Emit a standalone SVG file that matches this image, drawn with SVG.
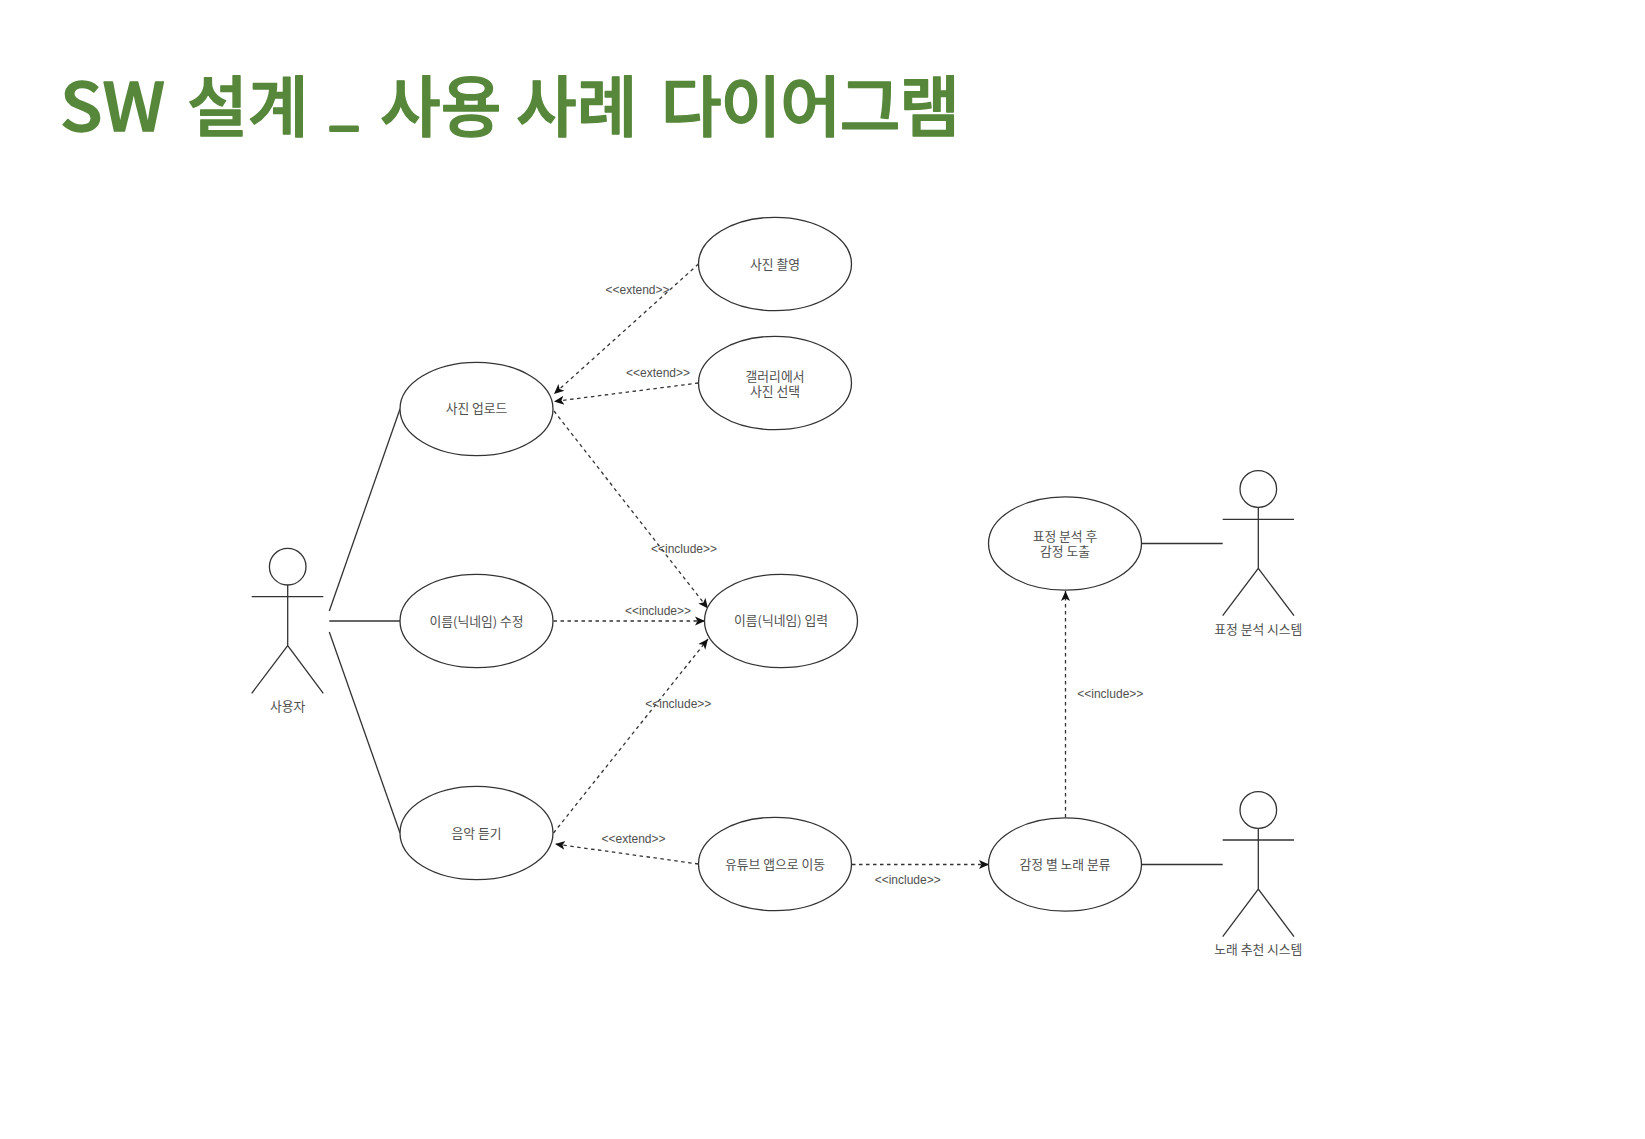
<svg xmlns="http://www.w3.org/2000/svg" width="1645" height="1139" viewBox="0 0 1645 1139">
<style>
text{font-family:"Liberation Sans","Noto Sans CJK KR",sans-serif;font-size:12px;fill:#505050;text-anchor:middle;dominant-baseline:central}
.kr{font-family:"Noto Sans CJK KR",sans-serif;font-size:12.8px;transform:translateY(-1px)}
.title{font-family:"Noto Sans CJK KR",sans-serif;font-size:66px;font-weight:500;fill:#56873a;text-anchor:start;dominant-baseline:auto;stroke:#56873a;stroke-width:1.4;stroke-linejoin:round}
ellipse,circle{fill:#fff;stroke:#333;stroke-width:1.3}
.s{fill:none;stroke:#333;stroke-width:1.3}
.d{fill:none;stroke:#333;stroke-width:1.3;stroke-dasharray:3.5 3.5;marker-end:url(#a)}
</style>
<defs>
<marker id="a" markerUnits="userSpaceOnUse" markerWidth="11" markerHeight="11" viewBox="0 0 11 11" refX="10" refY="5.5" orient="auto">
<path d="M0 1 L10 5.5 L0 10 L2.5 5.5 Z" fill="#111"/>
</marker>
</defs>
<rect width="1645" height="1139" fill="#fff"/>
<text id="title" class="title" y="131"><tspan x="60" textLength="105" lengthAdjust="spacingAndGlyphs">SW</tspan> <tspan x="187">설계</tspan> <tspan x="330" y="123" font-size="50" stroke-width="3">_</tspan> <tspan x="380" y="131">사용</tspan> <tspan x="516">사례</tspan> <tspan x="661" textLength="299">다이어그램</tspan></text>

<g id="connectors">
<line class="s" x1="329.3" y1="611" x2="400" y2="409"/>
<line class="s" x1="329.3" y1="621" x2="400" y2="621"/>
<line class="s" x1="329.3" y1="632" x2="400" y2="833"/>
<line class="s" x1="1141.5" y1="543.5" x2="1222.7" y2="543.5"/>
<line class="s" x1="1141.5" y1="864.5" x2="1222.7" y2="864.5"/>
<line class="d" x1="698.5" y1="264" x2="554" y2="394"/>
<line class="d" x1="698.5" y1="383" x2="554" y2="401.5"/>
<line class="d" x1="554" y1="411" x2="708" y2="608.5"/>
<line class="d" x1="553.5" y1="621" x2="705" y2="621"/>
<line class="d" x1="553.5" y1="833" x2="708" y2="639"/>
<line class="d" x1="698.5" y1="864" x2="555" y2="844"/>
<line class="d" x1="852" y1="864.5" x2="989" y2="864.5"/>
<line class="d" x1="1065.5" y1="817.5" x2="1065.5" y2="591"/>
<text x="637.5" y="290">&lt;&lt;extend&gt;&gt;</text>
<text x="658" y="373">&lt;&lt;extend&gt;&gt;</text>
<text x="684" y="549">&lt;&lt;include&gt;&gt;</text>
<text x="658" y="611">&lt;&lt;include&gt;&gt;</text>
<text x="678.3" y="704">&lt;&lt;include&gt;&gt;</text>
<text x="633.5" y="838.5">&lt;&lt;extend&gt;&gt;</text>
<text x="907.7" y="880">&lt;&lt;include&gt;&gt;</text>
<text x="1110.3" y="694">&lt;&lt;include&gt;&gt;</text>
</g>

<g id="uc-photo"><ellipse cx="775" cy="264" rx="76.5" ry="46.7"/><text class="kr" x="775" y="264">사진 촬영</text></g>
<g id="uc-gallery"><ellipse cx="775" cy="383" rx="76.5" ry="46.7"/><text class="kr"><tspan x="775" y="375.5">갤러리에서</tspan><tspan x="775" y="390.5">사진 선택</tspan></text></g>
<g id="uc-upload"><ellipse cx="476.5" cy="409" rx="76.5" ry="46.7"/><text class="kr" x="476.5" y="408.5">사진 업로드</text></g>
<g id="uc-edit-name"><ellipse cx="476.5" cy="621" rx="76.5" ry="46.7"/><text class="kr" x="476.5" y="621">이름(닉네임) 수정</text></g>
<g id="uc-enter-name"><ellipse cx="781" cy="621" rx="76.5" ry="46.7"/><text class="kr" x="781" y="620.5">이름(닉네임) 입력</text></g>
<g id="uc-music"><ellipse cx="476.5" cy="833" rx="76.5" ry="46.7"/><text class="kr" x="476.5" y="833">음악 듣기</text></g>
<g id="uc-youtube"><ellipse cx="775" cy="864" rx="76.5" ry="46.7"/><text class="kr" x="775" y="864">유튜브 앱으로 이동</text></g>
<g id="uc-analyze"><ellipse cx="1065" cy="543.5" rx="76.5" ry="46.7"/><text class="kr"><tspan x="1065" y="536">표정 분석 후</tspan><tspan x="1065" y="551">감정 도출</tspan></text></g>
<g id="uc-classify"><ellipse cx="1065" cy="864.5" rx="76.5" ry="46.7"/><text class="kr" x="1065" y="864">감정 별 노래 분류</text></g>

<g id="actor-user"><circle cx="287.7" cy="566.7" r="18.3"/><path class="s" d="M287.7 585V645.7M251.7 596.7H323.3M251.7 693.3L287.7 645.7L323.3 693.3"/><text class="kr" x="287.7" y="706.5">사용자</text></g>
<g id="actor-analysis"><circle cx="1258.3" cy="489" r="18.3"/><path class="s" d="M1258.3 507.3V568.3M1222.7 519.3H1294M1222.7 615.7L1258.3 568.3L1294 615.7"/><text class="kr" x="1258.3" y="629">표정 분석 시스템</text></g>
<g id="actor-recommend"><circle cx="1258.3" cy="810" r="18.3"/><path class="s" d="M1258.3 828.3V889M1222.7 840H1294M1222.7 936.7L1258.3 889L1294 936.7"/><text class="kr" x="1258.3" y="949.5">노래 추천 시스템</text></g>
</svg>
